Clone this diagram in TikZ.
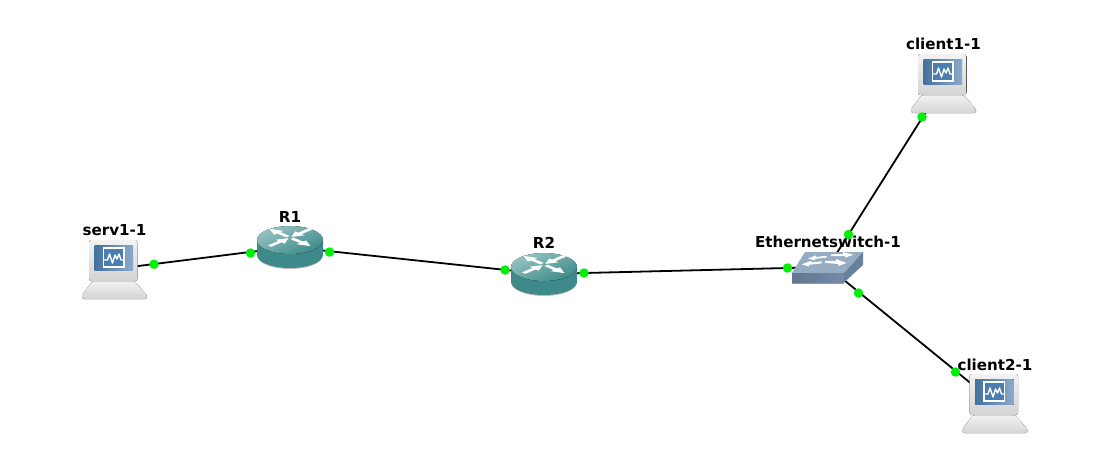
\documentclass[tikz,border=0pt]{standalone}
\usepackage{fontspec}
\setmainfont{DejaVu Sans}
\usetikzlibrary{calc}
\definecolor{linkgreen}{RGB}{0,240,10}
\definecolor{routertop}{RGB}{150,195,195}
\definecolor{routerside}{RGB}{62,138,138}
\definecolor{screenblue}{RGB}{75,125,175}
\definecolor{swtop}{RGB}{150,172,195}
\definecolor{swfront}{RGB}{115,140,170}
\definecolor{swright}{RGB}{105,128,155}
\tikzset{
  anchorpt/.style={inner sep=0pt,minimum size=0pt},
  linkline/.style={draw=black,line width=1.8pt},
  linkdot/.style={circle,fill=linkgreen,draw=none,minimum size=9.5pt,inner sep=0pt},
  devlabel/.style={font=\bfseries\fontsize{15.1}{17}\selectfont,text=black,inner sep=0pt},
  host/.pic={
    % base
    \fill[top color=black!5,bottom color=black!17,rounded corners=2.5pt]
      (-22,26) -- (20,26) -- (32.5,40) -- (32.5,44) -- (-32.5,44) -- (-32.5,40) -- cycle;
    % monitor
    \fill[top color=black!5,bottom color=black!17,rounded corners=2.5pt] (-25.5,-15) rectangle (23,26);
    % screen
    \fill[left color=screenblue!90!black,right color=screenblue!65!white] (-20,-10) rectangle (18.5,15.5);
    % window
    \draw[white,line width=1.3pt,fill=screenblue] (-11,-7) rectangle (9.5,12);
    \draw[white,line width=1.4pt,line join=round]
      (-11,5) -- (-7,5) -- (-5,-1) -- (-2,8) -- (0.5,0) -- (2.5,4) -- (4.5,-1) -- (6.5,5) -- (9.5,5);
  },
  router/.pic={
    % soft shadow under the body
    \fill[black!25] (-32,9.5) arc[start angle=180,end angle=0,x radius=32,y radius=12.5] -- cycle;
    % body
    \fill[routerside]
      (-33,-7) -- (-33,8) arc[start angle=180,end angle=0,x radius=33,y radius=13] -- (33,-7) -- cycle;
    % top
    \fill[top color=routertop,bottom color=routerside,shading angle=25] (0,-7) ellipse[x radius=33,y radius=14];
    % arrows on top
    \begin{scope}[shift={(0,-9.5)},yscale=.42]
      \foreach \ang in {-45,135}{
        \fill[white,rotate=\ang] (3,-2.4) -- (16,-2.4) -- (16,-6.5) -- (29,0) -- (16,6.5) -- (16,2.4) -- (3,2.4) -- cycle;
      }
      \foreach \ang in {45,225}{
        \fill[white,rotate=\ang] (2,0) -- (14,-6.5) -- (14,-2.4) -- (29,-2.4) -- (29,2.4) -- (14,2.4) -- (14,6.5) -- cycle;
      }
    \end{scope}
  },
  ethswitch/.pic={
    \fill[black!40] (-36,8) rectangle (16,16.5);
    \fill[swtop] (-36,6) -- (-23,-15) -- (35,-15) -- (16,6) -- cycle;
    \fill[left color=swfront!85!black,right color=swfront] (-36,6) rectangle (16,15);
    \fill[swright] (16,6) -- (35,-15) -- (35,-2) -- (16,15.5) -- cycle;
    % upper row
    \fill[white] (-1.5,-11.2) -- (-12,-10) -- (-12,-11.6) -- (-20,-8.5) -- (-13,-6.6) -- (-13,-8.2) -- (-1.5,-9.4) -- cycle;
    \fill[white] (3.5,-13) -- (15,-13) -- (15,-15) -- (25.5,-12.3) -- (17,-9.4) -- (17,-11) -- (3,-11) -- cycle;
    % lower row
    \fill[white] (-6.5,-5.6) -- (-17,-4.6) -- (-17,-6.2) -- (-26.5,-2.6) -- (-19,-0.4) -- (-19,-2.2) -- (-6.5,-3.6) -- cycle;
    \fill[white] (-3,-6.2) -- (8,-6.2) -- (8,-8) -- (18.5,-4) -- (10,-1) -- (10,-3) -- (-3,-4.2) -- cycle;
  }
}
\begin{document}
\begin{tikzpicture}[x=1pt,y=-1pt]
\useasboundingbox[fill=white] (0,0) rectangle (1119,472);
% device centres
\node[anchorpt] (serv) at (114.5,269) {};
\node[anchorpt] (r1) at (290,247) {};
\node[anchorpt] (r2) at (544,274) {};
\node[anchorpt] (sw) at (828,267) {};
\node[anchorpt] (cl1) at (943.5,84) {};
\node[anchorpt] (cl2) at (995,403) {};
% links
\draw[linkline] (serv) -- (r1);
\draw[linkline] (r1) -- (r2);
\draw[linkline] (r2) -- (sw);
\draw[linkline] (sw) -- (cl1);
\draw[linkline] (sw) -- (cl2);
% devices
\pic at (114.5,255) {host};
\pic at (943.5,69) {host};
\pic at (995,389) {host};
\pic at (290,247) {router};
\pic at (544,274) {router};
\pic at (828,267) {ethswitch};
% status dots
\node[linkdot] (d1) at (154,264.2) {};
\node[linkdot] (d2) at (250.5,253) {};
\node[linkdot] (d3) at (329.5,252) {};
\node[linkdot] (d4) at (505,270) {};
\node[linkdot] (d5) at (584,273) {};
\node[linkdot] (d6) at (787.5,268) {};
\node[linkdot] (d7) at (848.5,234.5) {};
\node[linkdot] (d8) at (922,117) {};
\node[linkdot] (d9) at (858.5,293) {};
\node[linkdot] (d10) at (955.5,372) {};
% labels
\node[devlabel] (lserv) at (114.5,230) {serv1-1};
\node[devlabel] (lr1) at (290,216.5) {R1};
\node[devlabel] (lr2) at (544,243) {R2};
\node[devlabel] (lsw) at (828,242) {Ethernetswitch-1};
\node[devlabel] (lcl1) at (943.5,44) {client1-1};
\node[devlabel] (lcl2) at (995,365) {client2-1};
\end{tikzpicture}
\end{document}
